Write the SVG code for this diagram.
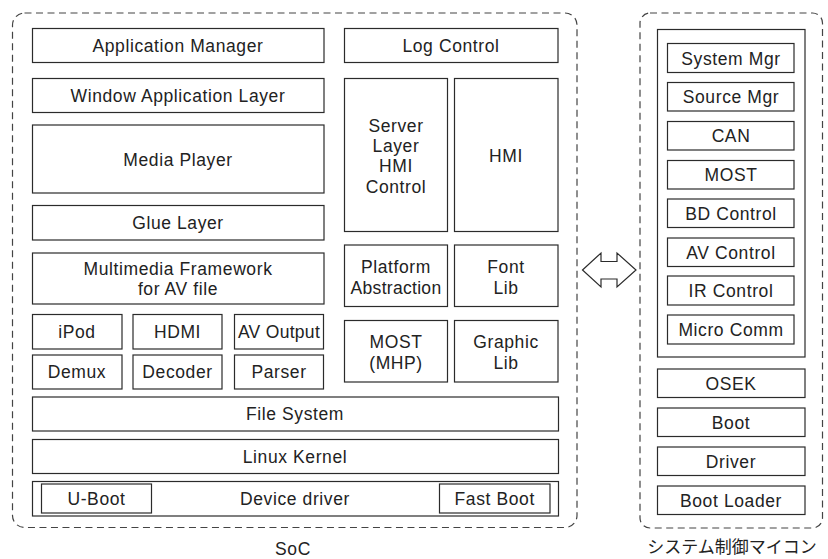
<svg xmlns="http://www.w3.org/2000/svg" width="828" height="559" viewBox="0 0 828 559">
<style>
  .box { fill: #fff; stroke: #2b2b2b; stroke-width: 1.2; }
  .dash { fill: none; stroke: #444; stroke-width: 1.2; stroke-dasharray: 7 4.5; }
  text { font-family: "Liberation Sans", Arial, sans-serif; font-size: 17.5px; fill: #222; text-anchor: middle; letter-spacing: 0.6px; }
  .jp { font-family: "Noto Sans CJK JP", "Liberation Sans", sans-serif; font-size: 17px; letter-spacing: 0; }
  .arrow { fill: #fff; stroke: #2b2b2b; stroke-width: 1.2; stroke-linejoin: miter; }
</style>
<rect width="828" height="559" fill="#fff"/>

<g id="soc">
  <rect class="dash" x="12.5" y="13" width="564.5" height="514.5" rx="12"/>
  <text x="293" y="555">SoC</text>
</g>
<g id="micon">
  <rect class="dash" x="640" y="13" width="182.5" height="515" rx="10"/>
  <text class="jp" x="732" y="553">システム制御マイコン</text>
</g>

<g id="app-manager"><rect class="box" x="32.5" y="28.5" width="291.5" height="34"/><text x="178" y="51.7">Application Manager</text></g>
<g id="window-app-layer"><rect class="box" x="32.5" y="78.5" width="291.5" height="34"/><text x="178" y="101.7">Window Application Layer</text></g>
<g id="media-player"><rect class="box" x="32.5" y="125" width="291.5" height="68"/><text x="178" y="165.5">Media Player</text></g>
<g id="glue-layer"><rect class="box" x="32.5" y="205.5" width="291.5" height="34.5"/><text x="178" y="229">Glue Layer</text></g>
<g id="mm-framework"><rect class="box" x="32.5" y="253" width="291.5" height="51"/><text x="178" y="275">Multimedia Framework</text><text x="178" y="295.3">for AV file</text></g>
<g id="ipod"><rect class="box" x="32.5" y="314.5" width="89.5" height="34.5"/><text x="77" y="338">iPod</text></g>
<g id="hdmi"><rect class="box" x="133" y="314.5" width="89" height="34.5"/><text x="177.5" y="338">HDMI</text></g>
<g id="av-output"><rect class="box" x="234.5" y="314.5" width="89" height="34.5"/><text x="279" y="338" style="letter-spacing:0.3px">AV Output</text></g>
<g id="demux"><rect class="box" x="32.5" y="355" width="89.5" height="34"/><text x="77" y="378.3">Demux</text></g>
<g id="decoder"><rect class="box" x="133" y="355" width="89" height="34"/><text x="177.5" y="378.3">Decoder</text></g>
<g id="parser"><rect class="box" x="234.5" y="355" width="89" height="34"/><text x="279" y="378.3">Parser</text></g>
<g id="file-system"><rect class="box" x="32.5" y="397" width="526" height="34"/><text x="295" y="420.3">File System</text></g>
<g id="linux-kernel"><rect class="box" x="32.5" y="439.5" width="526" height="34"/><text x="295" y="462.8">Linux Kernel</text></g>
<g id="device-driver"><rect class="box" x="32.5" y="481.5" width="526" height="34.5"/><text x="295" y="505">Device driver</text></g>
<g id="u-boot"><rect class="box" x="41.5" y="484" width="110" height="29"/><text x="96.5" y="505">U-Boot</text></g>
<g id="fast-boot"><rect class="box" x="439.5" y="484" width="110.5" height="29"/><text x="494.7" y="505">Fast Boot</text></g>

<g id="log-control"><rect class="box" x="344.5" y="28.5" width="213.5" height="34"/><text x="451" y="51.7">Log Control</text></g>
<g id="server-layer"><rect class="box" x="344.5" y="78.5" width="103" height="153"/><text x="396" y="131.7">Server</text><text x="396" y="152">Layer</text><text x="396" y="172.3">HMI</text><text x="396" y="192.6">Control</text></g>
<g id="hmi"><rect class="box" x="454.5" y="78.5" width="103.5" height="153"/><text x="506" y="161.5">HMI</text></g>
<g id="platform-abstraction"><rect class="box" x="344.5" y="245" width="103" height="61.5"/><text x="396" y="273.3">Platform</text><text x="396" y="293.5" style="letter-spacing:0.3px">Abstraction</text></g>
<g id="font-lib"><rect class="box" x="454.5" y="245" width="103.5" height="61.5"/><text x="506" y="273.3">Font</text><text x="506" y="293.5">Lib</text></g>
<g id="most-mhp"><rect class="box" x="344.5" y="320.5" width="103" height="61.5"/><text x="396" y="348.3">MOST</text><text x="396" y="368.5">(MHP)</text></g>
<g id="graphic-lib"><rect class="box" x="454.5" y="320.5" width="103.5" height="61.5"/><text x="506" y="348.3">Graphic</text><text x="506" y="368.5">Lib</text></g>

<g id="micro-app"><rect class="box" x="657.5" y="29.5" width="147.5" height="327.5"/></g>
<g id="system-mgr"><rect class="box" x="667.5" y="43.5" width="126.5" height="29"/><text x="731" y="64.5">System Mgr</text></g>
<g id="source-mgr"><rect class="box" x="667.5" y="82.5" width="126.5" height="28.5"/><text x="731" y="103">Source Mgr</text></g>
<g id="can"><rect class="box" x="667.5" y="121.5" width="126.5" height="28.5"/><text x="731" y="142">CAN</text></g>
<g id="most"><rect class="box" x="667.5" y="160.5" width="126.5" height="28.5"/><text x="731" y="181">MOST</text></g>
<g id="bd-control"><rect class="box" x="667.5" y="199" width="126.5" height="28.5"/><text x="731" y="219.5">BD Control</text></g>
<g id="av-control"><rect class="box" x="667.5" y="238" width="126.5" height="28.5"/><text x="731" y="258.5">AV Control</text></g>
<g id="ir-control"><rect class="box" x="667.5" y="276" width="126.5" height="29"/><text x="731" y="296.8">IR Control</text></g>
<g id="micro-comm"><rect class="box" x="667.5" y="315" width="126.5" height="29"/><text x="731" y="335.8">Micro Comm</text></g>
<g id="osek"><rect class="box" x="657.5" y="369" width="147.5" height="28.5"/><text x="731" y="389.5">OSEK</text></g>
<g id="boot"><rect class="box" x="657.5" y="408" width="147.5" height="28.5"/><text x="731" y="428.5">Boot</text></g>
<g id="driver"><rect class="box" x="657.5" y="447" width="147.5" height="28.5"/><text x="731" y="467.5">Driver</text></g>
<g id="boot-loader"><rect class="box" x="657.5" y="486" width="147.5" height="28.5"/><text x="731" y="506.5">Boot Loader</text></g>

<g id="connectors">
  <polygon class="arrow" points="582.5,270 601,253 601,261.5 617,261.5 617,253 636,270 617,287 617,279 601,279 601,287"/>
</g>
</svg>
